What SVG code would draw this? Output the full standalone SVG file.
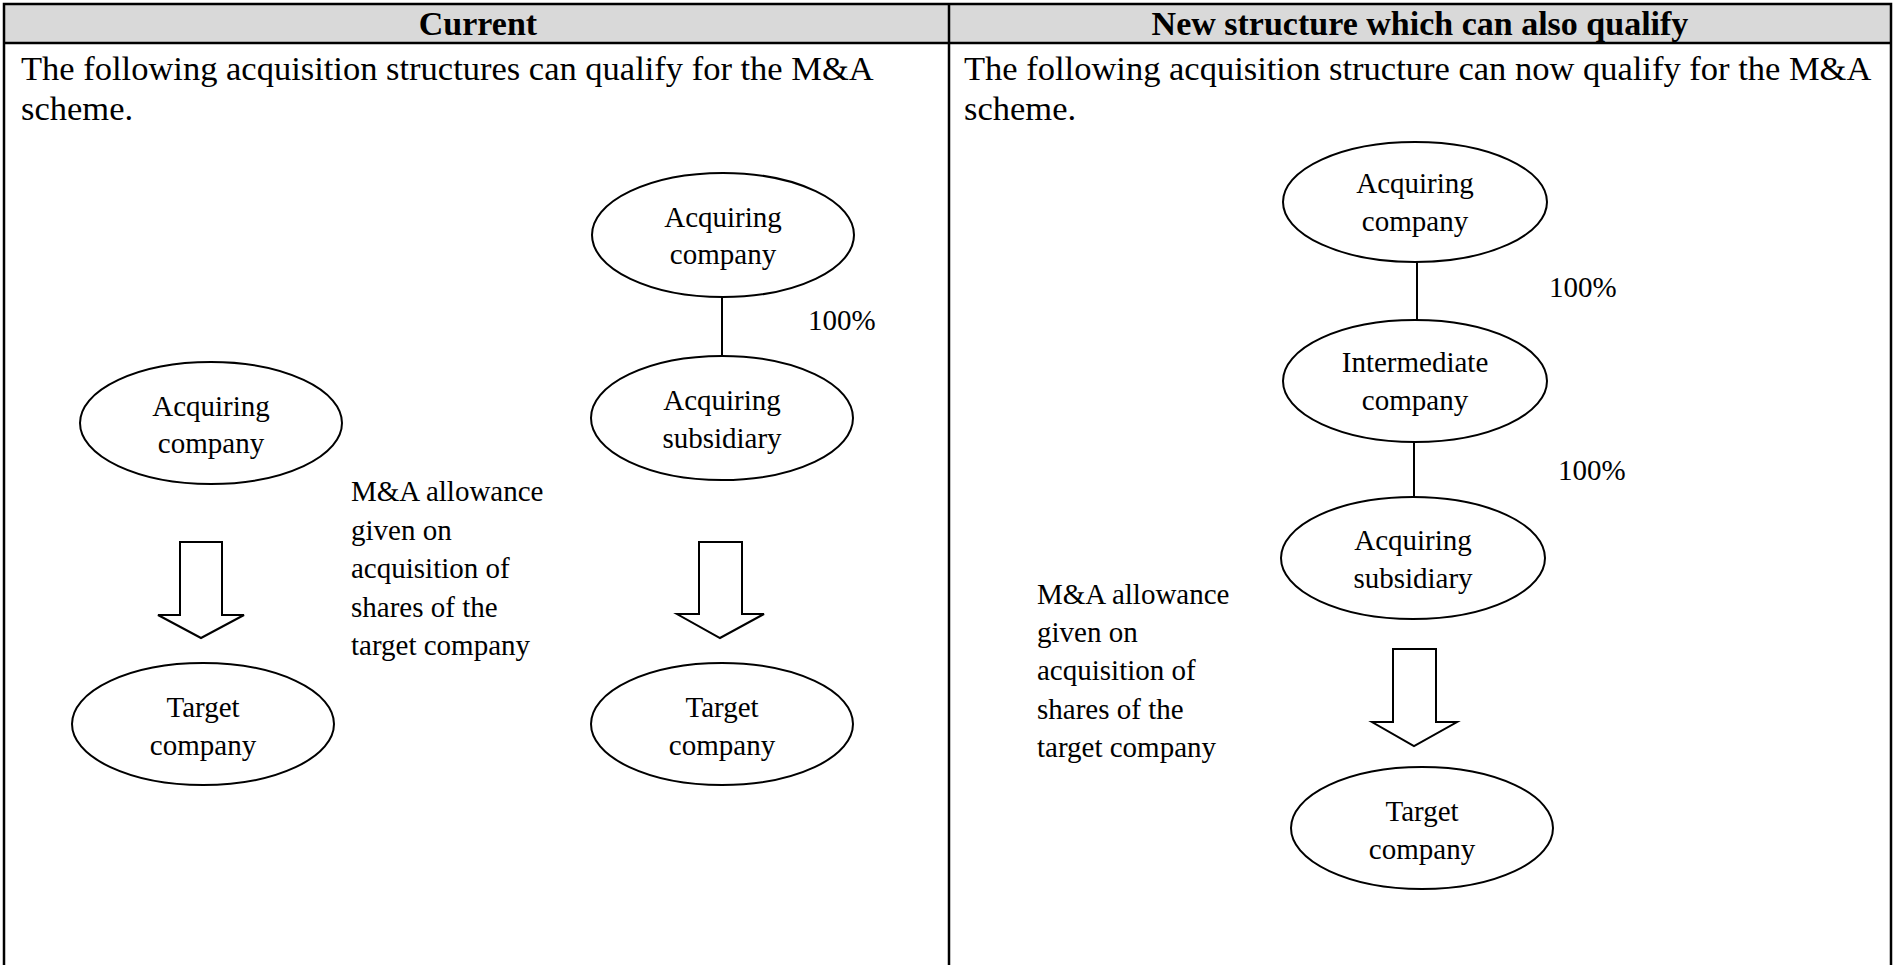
<svg xmlns="http://www.w3.org/2000/svg" width="1895" height="965" viewBox="0 0 1895 965">
<defs>
<style>
text{font-family:"Liberation Serif","Times New Roman",serif;fill:#000}
.hd{font-size:34px;font-weight:bold;text-anchor:middle}
.bd{font-size:34.5px}
.nt{font-size:29px;text-anchor:middle}
.lb{font-size:29px}
.el{fill:#fff;stroke:#000;stroke-width:2}
.tb{stroke:#000;stroke-width:2.5;fill:none}
.cn{stroke:#000;stroke-width:2;fill:none}
.ar{fill:#fff;stroke:#000;stroke-width:2;stroke-linejoin:miter}
</style>
</defs>
<rect width="1895" height="965" fill="#fff"/>
<g id="table">
<rect x="4" y="4" width="1887" height="39" fill="#d9d9d9"/>
<path class="tb" d="M4 965V4H1891V965M4 43H1891M949 4V965"/>
<text class="hd" x="478" y="35">Current</text>
<text class="hd" x="1420" y="35">New structure which can also qualify</text>
<text class="bd" x="21" y="80">The following acquisition structures can qualify for the M&amp;A</text>
<text class="bd" x="21" y="120">scheme.</text>
<text class="bd" x="964" y="80">The following acquisition structure can now qualify for the M&amp;A</text>
<text class="bd" x="964" y="120">scheme.</text>
</g>
<g id="connectors">
<path class="cn" d="M722 298V357"/>
<path class="cn" d="M1417 262V320"/>
<path class="cn" d="M1414 442V497"/>
<path class="ar" d="M180 542H222V615H244L201 638L158 615H180Z"/>
<path class="ar" d="M699 542H742V614H764L720 638L677 614H699Z"/>
<path class="ar" d="M1393 649H1436V722H1457L1414 746L1372 722H1393Z"/>
</g>
<g id="labels">
<text class="lb" x="808" y="330">100%</text>
<text class="lb" x="1549" y="297">100%</text>
<text class="lb" x="1558" y="480">100%</text>
<text class="lb" x="351"><tspan x="351" y="501">M&amp;A allowance</tspan><tspan x="351" y="540">given on</tspan><tspan x="351" y="578">acquisition of</tspan><tspan x="351" y="617">shares of the</tspan><tspan x="351" y="655">target company</tspan></text>
<text class="lb" x="1037"><tspan x="1037" y="604">M&amp;A allowance</tspan><tspan x="1037" y="642">given on</tspan><tspan x="1037" y="680">acquisition of</tspan><tspan x="1037" y="719">shares of the</tspan><tspan x="1037" y="757">target company</tspan></text>
</g>
<g id="n1"><ellipse class="el" cx="211" cy="423" rx="131" ry="61"/><text class="nt" x="211" y="416">Acquiring</text><text class="nt" x="211" y="453">company</text></g>
<g id="n2"><ellipse class="el" cx="203" cy="724" rx="131" ry="61"/><text class="nt" x="203" y="717">Target</text><text class="nt" x="203" y="755">company</text></g>
<g id="n3"><ellipse class="el" cx="723" cy="235" rx="131" ry="62"/><text class="nt" x="723" y="227">Acquiring</text><text class="nt" x="723" y="264">company</text></g>
<g id="n4"><ellipse class="el" cx="722" cy="418" rx="131" ry="62"/><text class="nt" x="722" y="410">Acquiring</text><text class="nt" x="722" y="448">subsidiary</text></g>
<g id="n5"><ellipse class="el" cx="722" cy="724" rx="131" ry="61"/><text class="nt" x="722" y="717">Target</text><text class="nt" x="722" y="755">company</text></g>
<g id="n6"><ellipse class="el" cx="1415" cy="202" rx="132" ry="60"/><text class="nt" x="1415" y="193">Acquiring</text><text class="nt" x="1415" y="231">company</text></g>
<g id="n7"><ellipse class="el" cx="1415" cy="381" rx="132" ry="61"/><text class="nt" x="1415" y="372">Intermediate</text><text class="nt" x="1415" y="410">company</text></g>
<g id="n8"><ellipse class="el" cx="1413" cy="558" rx="132" ry="61"/><text class="nt" x="1413" y="550">Acquiring</text><text class="nt" x="1413" y="588">subsidiary</text></g>
<g id="n9"><ellipse class="el" cx="1422" cy="828" rx="131" ry="61"/><text class="nt" x="1422" y="821">Target</text><text class="nt" x="1422" y="859">company</text></g>
</svg>
